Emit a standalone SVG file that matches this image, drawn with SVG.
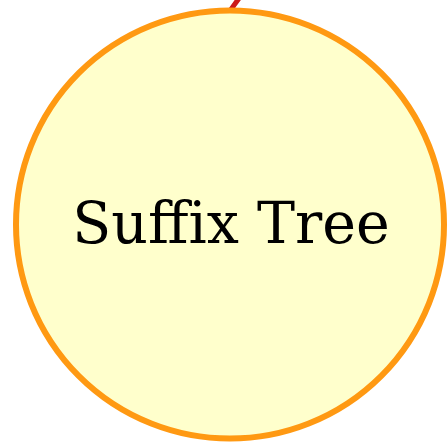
<svg xmlns="http://www.w3.org/2000/svg" width="447" height="444" viewBox="0 0 447 444">
<style>
.node{fill:#FFFFCC;stroke:#FF9912;stroke-width:6}
.edge{fill:none;stroke:#CC1A1A;stroke-width:5}
.lbl{font-family:"DejaVu Serif",serif;font-size:57px;fill:#000;text-anchor:middle}
</style>
<rect width="447" height="444" fill="#FFFFFF"/>
<g id="connectors">
<path class="edge" d="M230,11 Q234,5 240,-3"/>
</g>
<g id="suffix_tree">
<circle class="node" cx="230" cy="224.5" r="214"/>
<text class="lbl" x="231" y="243">Suffix Tree</text>
</g>
</svg>
